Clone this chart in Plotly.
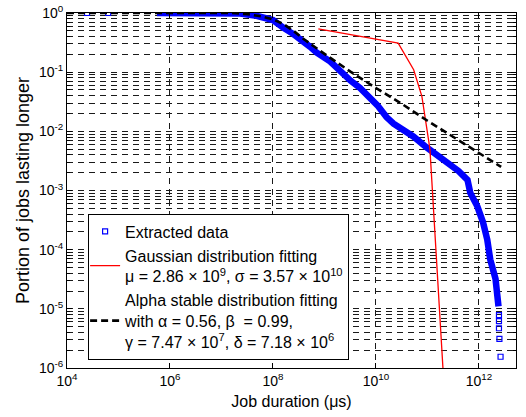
import plotly.graph_objects as go

# ---- data ----
# Extracted data: dense band of markers (drawn as a thick band) + discrete points
band_x = [5.6e5, 1.0e7, 2.3e7, 5.0e7, 1.0e8, 1.6e8, 2.5e8, 5.2e8, 7.1e8, 1.3e9, 1.7e9,
          3.2e9, 4.9e9, 1.07e10, 1.6e10, 2.2e10, 3.4e10, 5.4e10, 9.5e10, 1.8e11,
          2.75e11, 4.0e11, 6.0e11, 6.8e11, 9.3e11, 1.2e12, 1.45e12, 1.66e12, 2.1e12,
          2.3e12, 2.4e12]
band_y = [1.0, 1.0, 0.977, 0.89, 0.76, 0.56, 0.44, 0.27, 0.214, 0.151, 0.120,
          0.072, 0.054, 0.0275, 0.0174, 0.0135, 0.0105, 0.0081, 0.0054, 0.0037,
          0.0028, 0.00214, 0.00151, 0.00091, 0.00054, 0.00029, 0.000148, 6.8e-5, 3.2e-5,
          1.6e-5, 1.1e-5]
pts_x = [2.45e4, 6.3e4, 2.45e12, 2.45e12, 2.45e12, 2.5e12, 2.63e12]
pts_y = [1.0, 1.0, 7.8e-6, 6.2e-6, 4.7e-6, 3.1e-6, 1.55e-6]

# Gaussian distribution fitting
gauss_x = [7.6e8, 2.7e10, 5.4e10, 7.8e10, 1.05e11, 1.12e11, 2.05e11]
gauss_y = [0.54, 0.31, 0.11, 0.039, 0.0072, 0.0049, 7e-7]

# Alpha stable distribution fitting
alpha_x = [1e4, 1.6e7, 3.2e7, 6.3e7, 1e8, 1.6e8, 2.5e8, 4e8, 1e9, 3.2e9, 1e10,
           3.2e10, 1e11, 3.2e11, 1e12, 2.7e12]
alpha_y = [1.0, 1.0, 0.955, 0.87, 0.78, 0.65, 0.50, 0.36, 0.204, 0.102, 0.054,
           0.029, 0.0151, 0.0079, 0.0043, 0.0025]

x_tickvals = [1e4, 1e6, 1e8, 1e10, 1e12]
x_ticktext = ["10<sup>4</sup>", "10<sup>6</sup>", "10<sup>8</sup>", "10<sup>10</sup>", "10<sup>12</sup>"]
y_tickvals = [1e-6, 1e-5, 1e-4, 1e-3, 1e-2, 1e-1, 1]
y_ticktext = ["10<sup>-6</sup>", "10<sup>-5</sup>", "10<sup>-4</sup>", "10<sup>-3</sup>",
              "10<sup>-2</sup>", "10<sup>-1</sup>", "10<sup>0</sup>"]

name_data = "Extracted data"
name_gauss = "Gaussian distribution fitting<br>μ = 2.86 × 10<sup>9</sup>, σ = 3.57 × 10<sup>10</sup>"
name_alpha = ("Alpha stable distribution fitting<br>with α = 0.56, β  = 0.99,<br>"
              "γ = 7.47 × 10<sup>7</sup>, δ = 7.18 × 10<sup>6</sup>")

FONT = "Liberation Sans, Arial, sans-serif"
BLUE = "#0000ff"
GRID = "#1a1a1a"
GDASH = "6px,5px"

fig = go.Figure()
fig.add_trace(go.Scatter(x=band_x, y=band_y, mode="lines", showlegend=False,
                         line=dict(color=BLUE, width=6.5), hoverinfo="skip"))
fig.add_trace(go.Scatter(x=pts_x, y=pts_y, mode="markers", name=name_data,
                         marker=dict(symbol="square-open", size=5, color=BLUE,
                                     line=dict(width=1.2, color=BLUE))))
fig.add_trace(go.Scatter(x=gauss_x, y=gauss_y, mode="lines", name=name_gauss,
                         line=dict(color="#ff0000", width=1.3)))
fig.add_trace(go.Scatter(x=alpha_x, y=alpha_y, mode="lines", name=name_alpha,
                         line=dict(color="black", width=2.6, dash="7px,4px")))

fig.update_layout(
    width=526, height=417,
    margin=dict(l=66.7, r=10, t=13.3, b=49),
    paper_bgcolor="white", plot_bgcolor="white",
    font=dict(family=FONT, size=14, color="black"),
    legend=dict(x=0.047, y=0.435, xanchor="left", yanchor="top",
                bgcolor="white", bordercolor="black", borderwidth=1,
                font=dict(family=FONT, size=16), tracegroupgap=0, indentation=-4),
    xaxis=dict(type="log", range=[4, 12.72], tickmode="array", automargin=False,
               tickvals=x_tickvals, ticktext=x_ticktext,
               ticks="inside", ticklen=5, tickcolor="black",
               showline=True, linecolor="black", linewidth=1, mirror="ticks",
               showgrid=True, gridcolor=GRID, griddash=GDASH, gridwidth=1,
               title=dict(text="Job duration (μs)", font=dict(size=16), standoff=8),
               tickfont=dict(size=14)),
    yaxis=dict(type="log", range=[-6, 0], tickmode="array", automargin=False,
               tickvals=y_tickvals, ticktext=y_ticktext,
               ticks="inside", ticklen=5, tickcolor="black",
               showline=True, linecolor="black", linewidth=1, mirror="ticks",
               showgrid=True, gridcolor=GRID, griddash=GDASH, gridwidth=1,
               minor=dict(dtick="D1", ticks="inside", ticklen=3, tickcolor="black",
                          showgrid=True, gridcolor=GRID, griddash=GDASH, gridwidth=1),
               title=dict(text="Portion of jobs lasting longer", font=dict(size=18), standoff=4),
               tickfont=dict(size=14)),
)

# remove the browser's default 8px page margin so the figure fills the window exactly
fig.write_html("out.html", config={"displayModeBar": False},
               post_script="document.body.style.margin='0';")
